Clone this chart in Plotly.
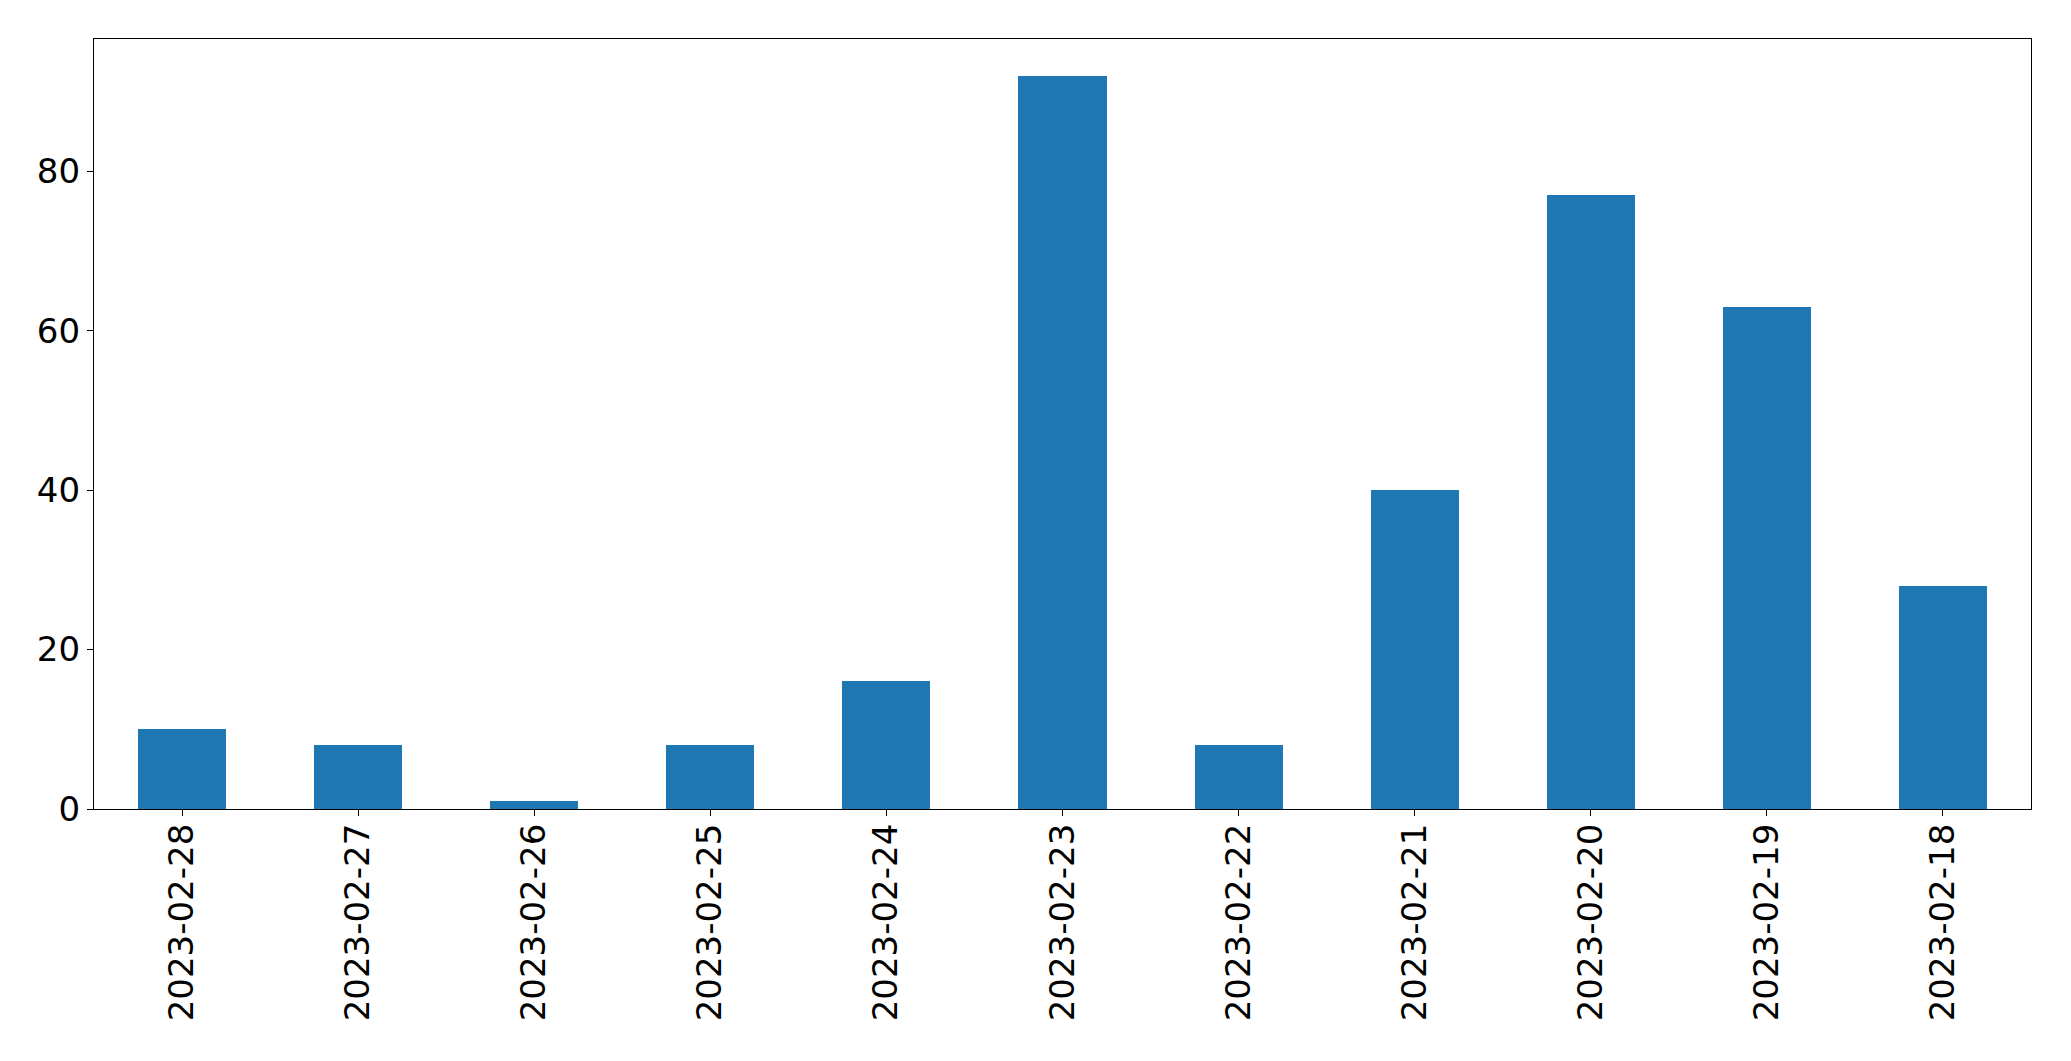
import plotly.graph_objects as go

dates = ["2023-02-28", "2023-02-27", "2023-02-26", "2023-02-25", "2023-02-24",
         "2023-02-23", "2023-02-22", "2023-02-21", "2023-02-20", "2023-02-19", "2023-02-18"]
counts = [10, 8, 1, 8, 16, 92, 8, 40, 77, 63, 28]
yticks = [0, 20, 40, 60, 80]

fig = go.Figure(go.Bar(x=dates, y=counts, width=0.5, marker=dict(color="#1f77b4", line=dict(width=0))))

axis_common = dict(showline=True, linecolor="black", linewidth=1.3, mirror=True,
                   ticks="outside", ticklen=6, tickwidth=1.3, tickcolor="black",
                   showgrid=False, zeroline=False, automargin=False,
                   tickfont=dict(family="DejaVu Sans", size=34, color="black"))

fig.update_layout(
    width=2071, height=1061,
    margin=dict(l=94, r=40, t=39, b=252),
    paper_bgcolor="white", plot_bgcolor="white",
    showlegend=False,
    bargap=0,
    xaxis=dict(type="category", range=[-0.5, 10.5], tickangle=-90, ticklabelstandoff=-6, **axis_common),
    yaxis=dict(range=[0, 96.6], tickvals=yticks, **axis_common),
)

fig.write_html("out.html", config={"displayModeBar": False},
               post_script="document.body.style.margin='0';document.body.style.overflow='hidden';")
